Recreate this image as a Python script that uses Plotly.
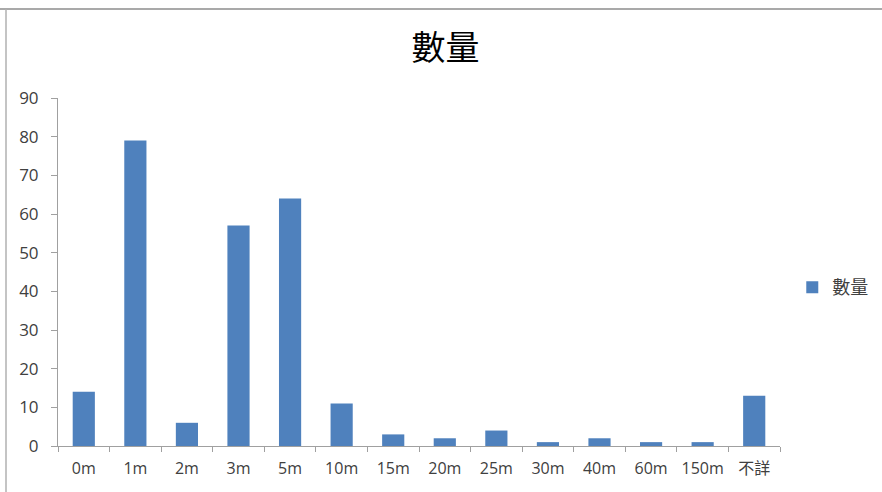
import plotly.graph_objects as go

categories = ["0m", "1m", "2m", "3m", "5m", "10m", "15m", "20m", "25m", "30m", "40m", "60m", "150m", "不詳"]
values = [14, 79, 6, 57, 64, 11, 3, 2, 4, 1, 2, 1, 1, 13]
series_name = "數量"
y_ticks = [0, 10, 20, 30, 40, 50, 60, 70, 80, 90]

font_fam = "Open Sans, Noto Sans CJK TC, sans-serif"
W, H = 882, 492
L, R, T, B = 58, 102, 98, 46
pw, ph = W - L - R, H - T - B

fig = go.Figure()
fig.add_trace(go.Bar(
    x=categories, y=values, name=series_name,
    marker=dict(color="#4F81BD", line=dict(width=0)),
    showlegend=True,
))

fig.update_layout(
    width=W, height=H,
    margin=dict(l=L, r=R, t=T, b=B, autoexpand=False),
    paper_bgcolor="white", plot_bgcolor="white",
    bargap=0.57,
    title=dict(text=series_name, x=0.505, xanchor="center", y=0.902, yanchor="middle",
               font=dict(family="Noto Sans CJK TC, sans-serif", size=34, color="#000000")),
    font=dict(family=font_fam, size=16, color="#404040"),
    legend=dict(x=1.017, xref="paper", y=0.455, xanchor="left", yanchor="middle",
                font=dict(family="Noto Sans CJK TC, sans-serif", size=18, color="#404040"),
                itemwidth=30, bgcolor="rgba(0,0,0,0)"),
    xaxis=dict(type="category", showline=True, linecolor="#A0A0A0", linewidth=1,
               ticks="outside", tickson="boundaries", ticklen=5, tickcolor="#A0A0A0",
               ticklabelstandoff=8, tickangle=0,
               showgrid=False, tickfont=dict(family=font_fam, size=16, color="#404040")),
    yaxis=dict(range=[0, 90], tickvals=y_ticks, showline=True, linecolor="#A0A0A0", linewidth=1,
               ticks="outside", ticklen=6, tickcolor="#A0A0A0", showgrid=False, zeroline=False,
               ticklabelstandoff=9,
               tickfont=dict(family=font_fam, size=17, color="#404040")),
    shapes=[
        dict(type="line", xref="paper", yref="paper", x0=-L/pw, x1=(W - L)/pw + 0.2,
             y0=(H - B - 9)/ph, y1=(H - B - 9)/ph, line=dict(color="#8C8C8C", width=1.5)),
        dict(type="line", xref="paper", yref="paper", x0=-(L - 6)/pw, x1=-(L - 6)/pw,
             y0=(H - B - 9)/ph, y1=-0.2, line=dict(color="#B0B0B0", width=1.5)),
    ],
)

fig.write_html("out.html")
